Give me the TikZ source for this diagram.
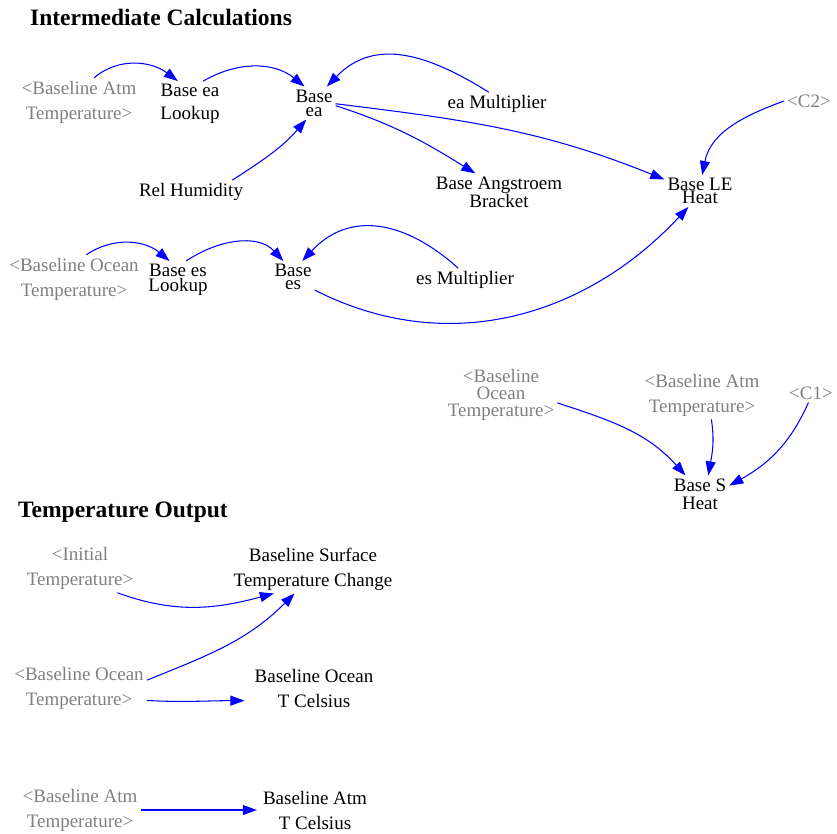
\documentclass[tikz,border=0pt]{standalone}
\usepackage{fontspec}
\setmainfont{Liberation Serif}
\usetikzlibrary{arrows.meta}
\definecolor{shadowtext}{RGB}{128,128,128}
\definecolor{linkblue}{RGB}{0,0,255}

\begin{document}
\begin{tikzpicture}[x=1pt,y=1pt,
  var/.style={align=center, inner sep=3pt, font=\fontsize{19}{25}\selectfont},
  ghost/.style={var, text=shadowtext},
  lsp/.style={font=\fontsize{19}{#1}\selectfont},
  title/.style={anchor=west, inner sep=0pt, font=\fontsize{23.5}{28}\selectfont\bfseries},
  link/.style={draw=linkblue, line width=1.05pt, -{Triangle[length=14pt,width=10pt]}}
]
\useasboundingbox (0,0) rectangle (837,-834);

% section titles
\node[title] (t1) at (30,-17) {Intermediate Calculations};
\node[title] (t2) at (18,-512) {Temperature Output};

% vapour pressure block (ea)
\node[ghost] (bAtm1) at (79,-102) {<Baseline Atm\\Temperature>};
\node[var, lsp=23] (eaLookup) at (190,-104) {Base ea\\Lookup};
\node[var, lsp=14] (baseEa) at (314,-103) {Base\\ea};
\node[var] (eaMult) at (497,-104) {ea Multiplier};
\node[var] (relHum) at (191,-192) {Rel Humidity};
\node[var, lsp=18] (angstroem) at (499,-192) {Base Angstroem\\Bracket};
\node[var, lsp=13] (leHeat) at (700,-191) {Base LE\\Heat};
\node[ghost] (c2) at (809,-101) {<C2>};

% vapour pressure block (es)
\node[ghost] (bOcean1) at (74,-279) {<Baseline Ocean\\Temperature>};
\node[var, lsp=15] (esLookup) at (178,-280) {Base es\\Lookup};
\node[var, lsp=13] (baseEs) at (293,-277) {Base\\es};
\node[var] (esMult) at (465,-280) {es Multiplier};

% sensible heat
\node[ghost, lsp=17] (bOcean2) at (501,-395) {<Baseline\\Ocean\\Temperature>};
\node[ghost] (bAtm2) at (702,-395) {<Baseline Atm\\Temperature>};
\node[ghost] (c1) at (811,-393) {<C1>};
\node[var, lsp=18] (sHeat) at (700,-494) {Base S\\Heat};

% temperature outputs
\node[ghost] (init) at (80,-568.5) {<Initial\\Temperature>};
\node[var] (surf) at (313,-569) {Baseline Surface\\Temperature Change};
\node[ghost] (bOcean3) at (79,-688.5) {<Baseline Ocean\\Temperature>};
\node[var] (oceanC) at (314,-688.5) {Baseline Ocean\\T Celsius};
\node[ghost] (bAtm3) at (80,-810) {<Baseline Atm\\Temperature>};
\node[var] (atmC) at (315,-810) {Baseline Atm\\T Celsius};

% links
\draw[link] (bAtm1.58) to[out=40,in=143] (eaLookup.118);
\draw[link] (eaLookup.60) to[out=30,in=141] (baseEa.120);
\draw[link] (eaMult.125) to[out=148,in=46,looseness=1.1] (baseEa.52);
\draw[link] (relHum.16) to[out=33,in=229] (baseEa.245);
\draw[link] (baseEa.-7) to[out=-18,in=148] (angstroem.142);
\draw[link] (baseEa.-2) to[out=-7,in=158] (leHeat.162);
\draw[link] (c2.180) to[out=200,in=79] (leHeat.82);
\draw[link] (baseEs.-31) to[out=-27,in=227] (leHeat.234);
\draw[link] (bOcean1.63) to[out=34,in=140] (esLookup.114);
\draw[link] (esLookup.67) to[out=34,in=133] (baseEs.121);
\draw[link] (esMult.120) to[out=138,in=47,looseness=1.15] (baseEs.60);
\draw[link] (bOcean2.-8) to[out=-18,in=132] (sHeat.128);
\draw[link] (bAtm2.-69) to[out=-81,in=80] (sHeat.66);
\draw[link] (c1.-105) to[out=-114,in=29] (sHeat.16);
\draw[link] (init.-33) to[out=-20,in=195] (surf.212);
\draw[link] (bOcean3.7) to[out=22,in=225] (surf.233);
\draw[link] (bOcean3.-10) to[out=-3,in=180] ([xshift=-7pt]oceanC.191);
\draw[link] (bAtm3.0) -- ([xshift=-3pt]atmC.180);
\end{tikzpicture}
\end{document}
